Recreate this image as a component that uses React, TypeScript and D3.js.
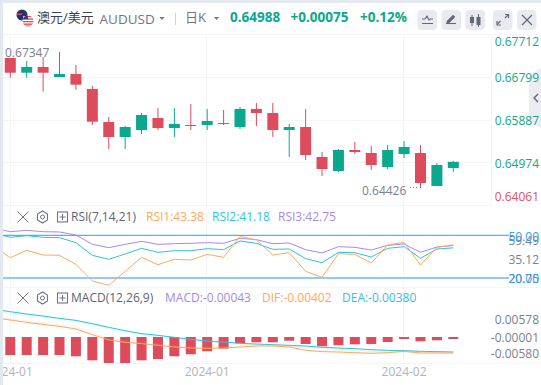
import React from "react";
import * as d3 from "d3";

const opens = [0.67218,0.66902,0.67025,0.6681,0.66874,0.66552,0.65843,0.65521,0.65672,0.65929,0.65715,0.65779,0.65779,0.65822,0.65736,0.66123,0.66037,0.65672,0.65736,0.65092,0.64791,0.65242,0.65178,0.64877,0.65156,0.65178,0.64469,0.64856];
const highs = [0.67218,0.67154,0.67239,0.67347,0.67068,0.66617,0.65951,0.65758,0.66037,0.66144,0.66144,0.6623,0.66123,0.66101,0.66166,0.66252,0.66252,0.65801,0.66123,0.65199,0.65264,0.65414,0.65328,0.6535,0.65435,0.6535,0.64963,0.65006];
const lows = [0.66795,0.66795,0.66494,0.6681,0.66537,0.65779,0.65264,0.65264,0.65586,0.65672,0.65521,0.65672,0.65672,0.65779,0.65693,0.65758,0.65521,0.65092,0.65027,0.64684,0.6477,0.65156,0.64813,0.64834,0.6507,0.64426,0.64469,0.6477];
const closes = [0.66902,0.67025,0.66902,0.66874,0.66645,0.6585,0.65521,0.65736,0.65994,0.65715,0.65801,0.65758,0.65865,0.65801,0.66123,0.66037,0.65672,0.65736,0.65135,0.64834,0.65242,0.65199,0.6492,0.65242,0.65307,0.64533,0.6492,0.64988];

// The indicator series start one session before the first candle.
const rsi1 = [42,34.29,39.44,36.16,35.93,29.6,17.89,14.85,24.68,34.52,29.37,33.12,32.65,36.63,34.52,49.28,46.7,36.16,37.8,24.68,20.47,37.1,36.63,30.54,43.19,45.06,29.13,41.55,43.38];
const rsi2 = [51.38,48.57,49.74,48.57,48.34,44.83,35.93,33.11,36.86,40.84,38.03,39.2,39.2,40.61,39.91,46,44.36,40.14,40.38,33.58,30.77,38.03,37.8,34.76,40.84,42.02,33.82,40.38,41.18];
const rsi3 = [54.9,52.55,53.49,52.55,52.32,50.21,43.65,41.31,43.65,45.76,43.65,44.12,44.36,44.83,44.36,47.87,46.93,44.12,44.59,39.91,37.57,42.02,41.55,39.67,42.95,43.89,38.03,41.78,42.75];
const macdBars = [-0.00387,-0.00387,-0.00387,-0.00387,-0.00415,-0.00501,-0.00559,-0.00559,-0.00501,-0.00473,-0.00415,-0.00372,-0.00307,-0.00252,-0.00135,-0.00114,-0.00114,-0.0008,-0.0015,-0.002,-0.00178,-0.00157,-0.0015,-0.00108,-0.00043,-0.00092,-0.00071,-0.00043];
const dif = [0.00358,0.00307,0.00257,0.00214,0.00171,0.00114,-0.00008,-0.00123,-0.00173,-0.00201,-0.00237,-0.00273,-0.00295,-0.00302,-0.00295,-0.00273,-0.00252,-0.00252,-0.00273,-0.00345,-0.00373,-0.00381,-0.00395,-0.00409,-0.00395,-0.00366,-0.00402,-0.00402,-0.00402];
const dea = [0.00537,0.00487,0.00436,0.00393,0.00343,0.003,0.00229,0.0015,0.00078,0.00014,-0.00022,-0.00065,-0.00108,-0.00144,-0.00166,-0.00194,-0.00209,-0.00223,-0.00237,-0.00252,-0.0028,-0.00295,-0.00309,-0.0033,-0.00345,-0.00352,-0.00366,-0.00373,-0.0038];

const priceTicks = ["0.67712","0.66799","0.65887","0.64974","0.64061"];
const rsiTicks = ["59.49","35.12","20.75"];
const macdTicks = ["0.00578","-0.00001","-0.00580"];
const xLabels: [number, string][] = [[0,"2024-01"],[12,"2024-01"],[24,"2024-02"]];

const GREEN = "#0aa88c", RED = "#dd4c5c", GRID = "#f4f5f8";
const ORANGE = "#ffa95c", CYAN = "#2fc3dc", PURPLE = "#a68ae8";
const FONT = "'Open Sans','Noto Sans CJK SC',sans-serif";

const xs = d3.scaleLinear().domain([0, 27]).range([10.3, 453.3]);
const yp = d3.scaleLinear().domain([0.64061, 0.67712]).range([205, 35]);
const yr = d3.scaleLinear().domain([20, 50]).range([278, 235.3]);
const yb = d3.scaleLinear().domain([-0.00559, 0]).range([363, 337]);
const yl = d3.scaleLinear().domain([-0.00402, 0]).range([353, 334.3]);

const lineOf = (scale: d3.ScaleLinear<number, number>) =>
  d3.line<number>().x((_, i) => xs(i - 1)).y(d => scale(d));

function Header() {
  const btn = [417.5, 441.5, 465.5, 493, 517];
  return (
    <g fontFamily={FONT}>
      <defs>
        <clipPath id="au"><circle cx={22} cy={15} r={5.5} /></clipPath>
        <clipPath id="us"><circle cx={28} cy={21} r={5.5} /></clipPath>
      </defs>
      <g clipPath="url(#au)">
        <rect x={16} y={9} width={12} height={12} fill="#27306e" />
        <rect x={16} y={13.5} width={6} height={1.5} fill="#d8475a" />
        <circle cx={24} cy={17} r={1} fill="#fff" />
      </g>
      <g clipPath="url(#us)">
        <rect x={22} y={15} width={12} height={12} fill="#fff" />
        {[16, 18.5, 21, 23.5, 25.5].map(y => <rect key={y} x={22} y={y} width={12} height={1.3} fill="#dc4a56" />)}
        <rect x={22} y={15} width={6} height={4} fill="#33407e" />
      </g>
      <text x={37} y={22} fontSize={13} fill="#3c4150">澳元/美元</text>
      <text x={99.5} y={24} fontSize={13.5} fill="#6f7585">AUDUSD</text>
      <path d="M159.5,17 h5 l-2.5,3 z" fill="#6f7585" />
      <line x1={175.5} x2={175.5} y1={13} y2={25} stroke="#cfd3dc" />
      <text x={185} y={22} fontSize={13} fill="#6f7585">日K</text>
      <path d="M214,17 h5 l-2.5,3 z" fill="#6f7585" />
      <g fontSize={13.5} fontWeight={700} fill={GREEN}>
        <text x={230} y={22}>0.64988</text>
        <text x={290.5} y={22}>+0.00075</text>
        <text x={360} y={22}>+0.12%</text>
      </g>
      {btn.map(x => <rect key={x} x={x} y={10} width={19.5} height={20} rx={4} fill="#e8eaf0" />)}
      <g stroke="#636979" fill="none">
        <path d="M422,23.5 h11 M422,19 h3 l2,-3 l2,4 l1.5,-1 h2.5" strokeWidth={1.1} />
        <path d="M446,23.5 h10" strokeWidth={1.1} />
        <path d="M447,21 l6,-6 l2,2 l-6,6 h-2 z" fill="#636979" strokeWidth={0.6} />
        <path d="M472,15 v11 M478.5,14 v13" strokeWidth={1} />
        <path d="M497.5,24 l3,-3 M508,15 l-3,3" strokeWidth={1.2} />
        <path d="M497,21 v4 h4 M505,14.5 h3.5 v3.5" strokeWidth={1.2} />
        <path d="M522,15 l10,10 M532,15 l-10,10" strokeWidth={1.2} />
      </g>
      <rect x={470} y={17} width={4} height={6} fill="#636979" />
      <rect x={476.5} y={17} width={4} height={8} fill="#636979" />
    </g>
  );
}

function PaneTools({ y }: { y: number }) {
  return (
    <g stroke="#6f7585" fill="none" strokeWidth={1}>
      <path d={`M17.5,${y - 5.5} l11,11 M28.5,${y - 5.5} l-11,11`} />
      <path d={`M42.5,${y - 6} l5,3 v6 l-5,3 l-5,-3 v-6 z`} strokeWidth={1.1} />
      <circle cx={42.5} cy={y} r={2} />
      <rect x={57.5} y={y - 5} width={10} height={10} strokeWidth={1.1} />
      <path d={`M59.5,${y} h6 M62.5,${y - 3} v6`} />
    </g>
  );
}

export default function App() {
  const rsiPath = lineOf(yr);
  const macdPath = lineOf(yl);
  return (
    <svg width={541} height={385} viewBox="0 0 541 385"
      style={{ position: "fixed", left: 0, top: 0, display: "block", background: "#fff" }}>
      <defs>
        <clipPath id="plot"><rect x={3} y={0} width={490} height={385} /></clipPath>
        <clipPath id="lbl"><rect x={3} y={360} width={538} height={25} /></clipPath>
      </defs>
      <rect x={0} y={0} width={541} height={3} fill="#e4e8ef" />
      <rect x={0} y={0} width={3} height={385} fill="#e4e8ef" />
      <Header />

      {/* grid */}
      <g stroke={GRID} strokeWidth={1}>
        <line x1={3} x2={541} y1={34.5} y2={34.5} />
        {[77.5, 120.5, 162.5, 205.5].map(y => <line key={y} x1={3} x2={491} y1={y} y2={y} />)}
        {[10.5, 206.5, 403.5].map(x => <line key={x} x1={x} x2={x} y1={35} y2={364} />)}
        <line x1={491.5} x2={491.5} y1={35} y2={205} />
        <line x1={3} x2={541} y1={287.5} y2={287.5} />
        <line x1={3} x2={541} y1={363.5} y2={363.5} />
      </g>

      {/* candles */}
      {opens.map((o, i) => {
        const c = closes[i];
        const col = c >= o ? GREEN : RED;
        const top = yp(Math.max(o, c)), bot = yp(Math.min(o, c));
        const x = xs(i);
        return (
          <g key={i}>
            <line x1={x} x2={x} y1={yp(highs[i])} y2={yp(lows[i])} stroke={col} strokeWidth={1} />
            <rect x={x - 5.5} y={top} width={11} height={Math.max(1, bot - top)} fill={col} />
          </g>
        );
      })}
      <g fontFamily={FONT} fontSize={12} fill="#7b8090">
        <text x={5} y={57}>{d3.format(".5f")(d3.max(highs)!)}</text>
        <text x={362} y={195}>{d3.format(".5f")(d3.min(lows)!)}</text>
      </g>
      <line x1={410} x2={419} y1={187.5} y2={187.5} stroke="#7b8090" strokeDasharray="1 2" />

      {/* side handle sits under the price labels */}
      <path d="M541,68 L532,73 Q529,75 529,78 L529,118 Q529,121 532,123 L541,128 Z" fill="#ecedf2" />
      <path d="M538,94 l-4,4 l4,4" fill="none" stroke="#5d6373" strokeWidth={1.4} />

      {/* price axis */}
      <g fontFamily={FONT} fontSize={12} textAnchor="end">
        {priceTicks.map((t, i) => (
          <text key={t} x={539} y={[46, 82, 125, 168, 201][i]} fill={i === 4 ? "#e0525f" : "#12a78c"}>{t}</text>
        ))}
      </g>

      {/* RSI */}
      <PaneTools y={217} />
      <g fontFamily={FONT} fontSize={12}>
        <text x={71} y={221} fill="#5d6373">RSI(7,14,21)</text>
        <text x={146} y={221} fill={ORANGE}>RSI1:43.38</text>
        <text x={212} y={221} fill={CYAN}>RSI2:41.18</text>
        <text x={278} y={221} fill={PURPLE}>RSI3:42.75</text>
      </g>
      <line x1={3} x2={509} y1={yr(50)} y2={yr(50)} stroke="#2f9df0" strokeWidth={1} />
      <line x1={3} x2={509} y1={yr(20)} y2={yr(20)} stroke="#8fcbf6" strokeWidth={2} />
      <g clipPath="url(#plot)" fill="none" strokeWidth={1}>
        <path d={rsiPath(rsi3)!} stroke={PURPLE} />
        <path d={rsiPath(rsi2)!} stroke={CYAN} />
        <path d={rsiPath(rsi1)!} stroke={ORANGE} />
      </g>
      <g fontFamily={FONT} fontSize={12} textAnchor="end">
        <text x={539} y={244.5} fill="#7b8090">{rsiTicks[0]}</text>
        <text x={539} y={241} fill="#2f9df0">50.00</text>
        <text x={539} y={264} fill="#7b8090">{rsiTicks[1]}</text>
        <text x={539} y={283} fill="#7b8090">{rsiTicks[2]}</text>
        <text x={539} y={283} fill="#2f9df0">20.00</text>
      </g>

      {/* MACD */}
      <PaneTools y={298} />
      <g fontFamily={FONT} fontSize={12}>
        <text x={71} y={302} fill="#5d6373">MACD(12,26,9)</text>
        <text x={165} y={302} fill={PURPLE}>MACD:-0.00043</text>
        <text x={262} y={302} fill={ORANGE}>DIF:-0.00402</text>
        <text x={342} y={302} fill={CYAN}>DEA:-0.00380</text>
      </g>
      {macdBars.map((v, i) => (
        <rect key={i} x={xs(i) - 5} y={yb(0)} width={10} height={yb(v) - yb(0)} fill={RED} />
      ))}
      <g clipPath="url(#plot)" fill="none" strokeWidth={1}>
        <path d={macdPath(dea)!} stroke={CYAN} />
        <path d={macdPath(dea)!} stroke={CYAN} strokeWidth={2.2} strokeOpacity={0.1} transform="translate(0,1)" />
        <path d={macdPath(dif)!} stroke={ORANGE} />
        <path d={macdPath(dif)!} stroke={ORANGE} strokeWidth={2.2} strokeOpacity={0.1} transform="translate(0,-1)" />
      </g>
      <g fontFamily={FONT} fontSize={12} textAnchor="end" fill="#7b8090">
        {macdTicks.map((t, i) => <text key={t} x={539} y={[324, 342, 358][i]}>{t}</text>)}
      </g>

      {/* time axis */}
      <g clipPath="url(#lbl)" fontFamily={FONT} fontSize={12} fill="#aeb3bf" textAnchor="middle">
        {xLabels.map(([i, t]) => <text key={i} x={xs(i)} y={376}>{t}</text>)}
      </g>
    </svg>
  );
}
